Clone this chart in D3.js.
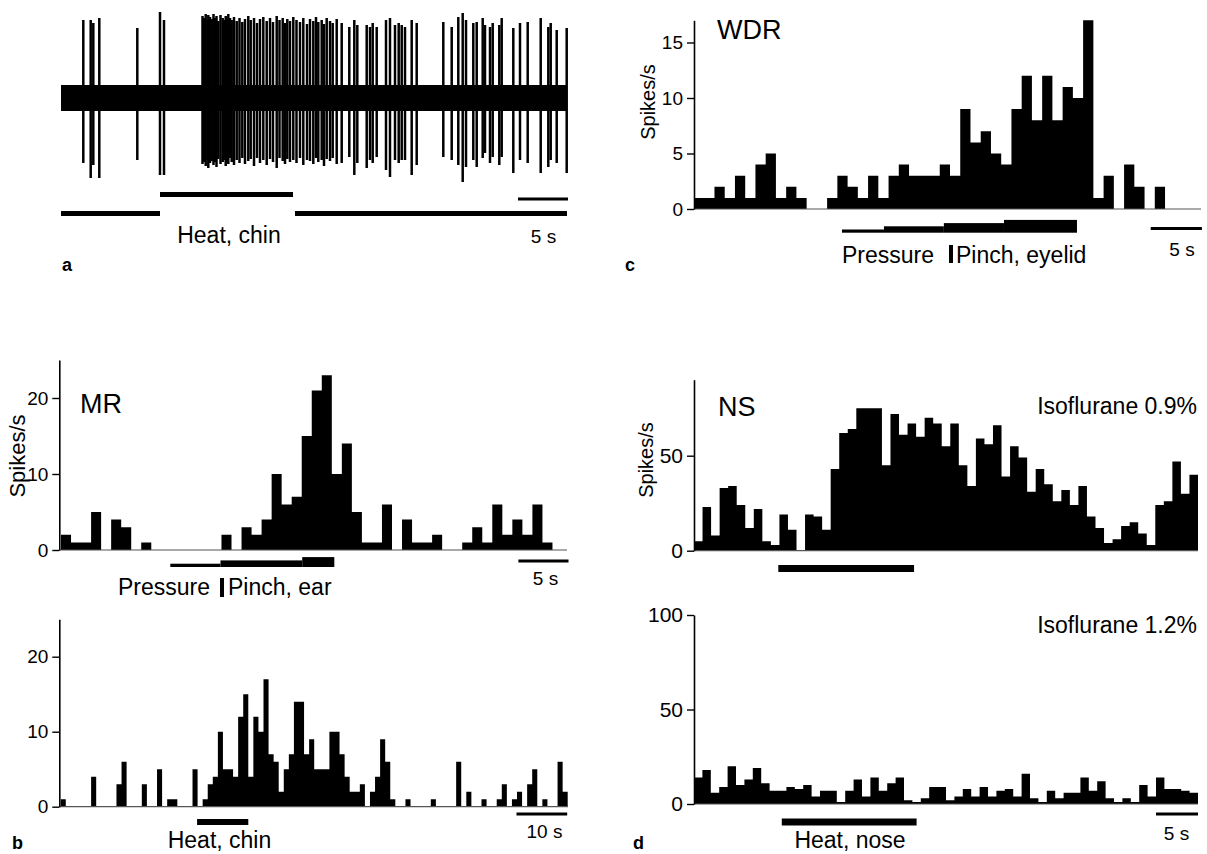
<!DOCTYPE html>
<html><head><meta charset="utf-8">
<script src="https://cdn.jsdelivr.net/npm/d3@7"></script>
<style>
body{margin:0;background:#fff;}
svg{display:block;font-family:"Liberation Sans",Arial,Helvetica,sans-serif;}
</style></head><body>
<svg id="fig" width="1207" height="854"></svg>
<script>
// ================= DATA =================
// Panel a: extracellular recording (time in s, amplitude in arbitrary units, 0 = baseline)
const aDuration = 50.6;
const aNoiseHalf = 13;
const aSpikeTimes = [2.23,2.97,3.23,3.83,7.63,9.9,10.3,
  14.15,14.3,14.47,14.65,14.73,14.9,15.07,15.25,15.4,15.55,15.73,15.95,16.17,16.3,16.47,16.6,16.73,16.9,17.07,17.3,
  17.57,17.85,18.13,18.4,18.73,18.97,19.3,19.6,19.9,20.23,20.57,20.9,21.2,21.57,21.85,22.17,22.4,22.63,22.9,23.23,
  23.55,23.9,24.23,24.6,24.9,25.23,25.5,25.73,26.07,26.3,26.57,26.9,27.17,27.57,
  28.07,28.83,29.33,29.63,30.57,30.9,31.17,31.57,32.5,32.9,33.4,33.77,34.07,34.4,35.07,35.57,
  38.23,39.07,39.73,40.17,40.5,41.23,41.57,42.17,42.4,42.9,43.17,43.83,44.07,45.23,45.9,46.67,47.97,48.73,48.97,49.57,50.57];
const aSpikeTop = [78,78,75,80,70,86,78,
  82,80,84,78,83,81,79,84,80,82,77,83,80,78,82,79,84,80,78,81,
  77,80,76,79,82,78,80,75,79,81,77,80,76,82,78,80,75,79,77,81,
  78,76,80,74,79,77,81,76,78,74,80,77,75,79,
  75,71,78,73,73,71,75,71,78,80,73,75,73,71,78,75,
  76,71,81,85,78,75,76,80,73,71,75,73,80,70,75,76,80,71,75,68,70];
const aSpikeBottom = [-65,-80,-67,-80,-62,-77,-77,
  -66,-64,-68,-62,-70,-65,-63,-67,-64,-69,-61,-66,-64,-62,-68,-63,-66,-60,-64,-67,
  -62,-65,-60,-66,-63,-61,-68,-60,-65,-62,-67,-61,-64,-70,-60,-63,-66,-61,-64,-62,
  -65,-60,-67,-62,-63,-66,-60,-64,-62,-68,-61,-63,-60,-66,
  -65,-59,-77,-65,-70,-62,-65,-59,-72,-79,-62,-65,-62,-62,-77,-67,
  -59,-62,-67,-84,-69,-62,-69,-60,-55,-65,-59,-67,-59,-75,-62,-65,-75,-69,-62,-65,-75];
const aHeatStart = [0, 9.9, 23.4];
const aHeatEnd   = [9.9, 23.2, 50.6];
const aHeatLevel = [0, 1, 0];

// Panel c: WDR neuron, spikes/s per 1-s bin
const cWDR = [1,1,2,1,3,1,4,5,1,2,1,0,0,1,3,2,1,3,1,3,4,3,3,3,4,3,9,6,7,5,4,9,12,8,12,8,11,10,17,1,3,0,4,2,0,2];
const cTicks = [0,5,10,15];
const cStimStart = [14.45, 18.55, 24.4, 30.27];
const cStimEnd   = [18.55, 24.4, 30.27, 37.4];
const cStimLevel = [1, 2, 3, 4];

// Panel b (top): MR neuron, pressure -> pinch ear
const bMR = [2,1,1,5,0,4,3,0,1,0,0,0,0,0,0,0,2,0,3,2,4,10,6,7,15,21,23,10,14,5,1,1,6,0,4,1,1,2,0,0,1,3,1,6,2,4,2,6,1,0];
const bTicks = [0,10,20];
const bStimStart = [10.9, 15.9, 24.05];
const bStimEnd   = [15.9, 24.05, 27.25];
const bStimLevel = [1, 2, 3];

// Panel b (bottom): MR neuron, heat chin
const bHeat = [1,0,0,0,0,0,4,0,0,0,0,3,6,0,0,0,3,0,0,5,0,1,1,0,0,0,5,0,1,3,4,10,5,5,4,12,15,4,12,10,17,7,6,2,5,7,14,14,7,9,
  5,5,5,10,10,7,4,2,2,3,0,2,4,9,6,1,0,0,1,0,0,0,0,1,0,0,0,0,6,0,2,0,0,1,0,0,1,3,0,1,2,0,3,5,0,1,0,0,6,2];
const bHeatStim = [26.9, 37.0];

// Panel d: NS neuron, heat nose, two isoflurane levels
const dIso09 = [5,23,8,33,34,24,12,22,5,3,19,11,0,19,18,11,43,62,64,75,75,75,45,72,61,67,60,70,67,55,67,45,34,59,56,66,39,55,49,31,43,35,26,32,24,34,18,12,4,6,13,15,9,3,24,26,47,30,40];
const dIso12 = [14,18,6,9,20,10,13,19,11,7,7,9,8,10,4,7,7,1,7,13,4,14,7,11,14,2,1,3,9,9,2,4,8,4,9,4,7,8,4,16,3,1,7,3,6,6,14,7,12,3,1,3,1,10,4,14,8,8,7,6];
const dTicksTop = [0,50];
const dTicksBottom = [0,50,100];
const dHeatTop = [9.87, 25.76];
const dHeatBottom = [10.45, 26.5];

// ================= DRAWING =================
const svg = d3.select('#fig');
const INK = '#000';

function label(x, y, s, size, anchor, weight) {
  return svg.append('text').attr('x', x).attr('y', y).attr('font-size', size)
    .attr('text-anchor', anchor || 'start').attr('font-weight', weight || 'normal')
    .attr('fill', INK).text(s);
}
function vlabel(cx, cy, s, size) {
  return svg.append('text').attr('transform', `translate(${cx},${cy}) rotate(-90)`)
    .attr('font-size', size).attr('text-anchor', 'middle').attr('dominant-baseline', 'central')
    .attr('fill', INK).text(s);
}

function histogram(values, x, y, ticks, axisX, baseEnd, tickFont) {
  const g = svg.append('g');
  const pts = values.map((v, i) => [i, v]);
  pts.push([values.length, values[values.length - 1]]);
  g.append('path').datum(pts)
    .attr('d', d3.area().x(d => x(d[0])).y0(y(0)).y1(d => y(d[1])).curve(d3.curveStepAfter))
    .attr('fill', INK);
  g.append('line').attr('x1', axisX).attr('x2', baseEnd).attr('y1', y(0)).attr('y2', y(0))
    .attr('stroke', '#555').attr('stroke-width', 1.2);
  const ax = d3.axisLeft(y).tickValues(ticks).tickSize(7).tickSizeOuter(0).tickPadding(4);
  const ag = g.append('g').attr('transform', `translate(${axisX},0)`).call(ax);
  ag.select('.domain').attr('stroke', INK).attr('stroke-width', 1.6);
  ag.selectAll('.tick line').attr('stroke', INK).attr('stroke-width', 1.4);
  ag.selectAll('.tick text').attr('font-size', tickFont).attr('fill', INK)
    .attr('font-family', '"Liberation Sans",Arial,sans-serif');
  return g;
}

function scaleBar(x, t0, dur, yPos) {
  svg.append('line').attr('x1', x(t0)).attr('x2', x(t0 + dur)).attr('y1', yPos).attr('y2', yPos)
    .attr('stroke', INK).attr('stroke-width', 3);
}

function stairs(x, starts, ends, levels, bottom, step) {
  svg.append('g').selectAll('rect').data(starts).join('rect')
    .attr('x', (d) => x(d)).attr('width', (d, i) => x(ends[i]) - x(d))
    .attr('y', (d, i) => bottom - levels[i] * step).attr('height', (d, i) => levels[i] * step)
    .attr('fill', INK);
}

// ---------- Panel a ----------
{
  const x = d3.scaleLinear().domain([0, aDuration]).range([61, 567]);
  const y = d3.scaleLinear().domain([-100, 100]).range([198, -2]);
  const g = svg.append('g');
  g.append('rect').attr('x', x(0)).attr('width', x(aDuration) - x(0))
    .attr('y', y(aNoiseHalf)).attr('height', y(-aNoiseHalf) - y(aNoiseHalf)).attr('fill', INK);
  g.selectAll('line.sp').data(aSpikeTimes).join('line').attr('class', 'sp')
    .attr('x1', d => x(d)).attr('x2', d => x(d))
    .attr('y1', (d, i) => y(aSpikeTop[i])).attr('y2', (d, i) => y(aSpikeBottom[i]))
    .attr('stroke', INK).attr('stroke-width', 2.5);
  const hy = d3.scaleLinear().domain([0, 1]).range([213.5, 194.5]);
  g.selectAll('line.heat').data(aHeatStart).join('line').attr('class', 'heat')
    .attr('x1', d => x(d)).attr('x2', (d, i) => x(aHeatEnd[i]))
    .attr('y1', (d, i) => hy(aHeatLevel[i])).attr('y2', (d, i) => hy(aHeatLevel[i]))
    .attr('stroke', INK).attr('stroke-width', 5);
  scaleBar(x, 45.7, 5, 199);
  label(229, 243, 'Heat, chin', 23, 'middle');
  label(543.5, 243, '5 s', 19, 'middle');
  label(62, 271, 'a', 18, 'start', 'bold');
}

// ---------- Panel c ----------
{
  const n = cWDR.length;
  const x = d3.scaleLinear().domain([0, n]).range([694, 694 + n * 10.24]);
  const y = d3.scaleLinear().domain([0, 17]).range([209, 20.3]);
  histogram(cWDR, x, y, cTicks, 694, 1201, 19);
  stairs(x, cStimStart, cStimEnd, cStimLevel, 232.7, 3.2);
  svg.append('rect').attr('x', 949).attr('y', 245).attr('width', 4).attr('height', 18).attr('fill', INK);
  label(842, 263, 'Pressure', 23);
  label(956, 263, 'Pinch, eyelid', 23);
  scaleBar(x, 44.6, 5, 228.5);
  label(1182, 256, '5 s', 19, 'middle');
  label(717, 39, 'WDR', 27);
  vlabel(648, 102, 'Spikes/s', 20);
  label(625, 271, 'c', 18, 'start', 'bold');
}

// ---------- Panel b (top) ----------
{
  const n = bMR.length;
  const x = d3.scaleLinear().domain([0, n]).range([61, 61 + n * 10.03]);
  const y = d3.scaleLinear().domain([0, 25]).range([550, 360]);
  histogram(bMR, x, y, bTicks, 59.3, 567, 19);
  stairs(x, bStimStart, bStimEnd, bStimLevel, 567, 3.3);
  svg.append('rect').attr('x', 220).attr('y', 578).attr('width', 4).attr('height', 19).attr('fill', INK);
  label(118, 595, 'Pressure', 23);
  label(228, 595, 'Pinch, ear', 23);
  scaleBar(x, 45.6, 5, 561);
  label(545.5, 585, '5 s', 19, 'middle');
  label(80, 413, 'MR', 27);
  vlabel(17.5, 456, 'Spikes/s', 22);
}

// ---------- Panel b (bottom) ----------
{
  const n = bHeat.length;
  const x = d3.scaleLinear().domain([0, n]).range([60.7, 60.7 + n * 5.07]);
  const y = d3.scaleLinear().domain([0, 25]).range([806.7, 619.2]);
  histogram(bHeat, x, y, bTicks, 59.3, 568, 19);
  svg.append('line').attr('x1', x(bHeatStim[0])).attr('x2', x(bHeatStim[1])).attr('y1', 822).attr('y2', 822)
    .attr('stroke', INK).attr('stroke-width', 6);
  scaleBar(x, 89.9, 10, 814);
  label(219.5, 848, 'Heat, chin', 23, 'middle');
  label(544.5, 838, '10 s', 19, 'middle');
  label(12, 849, 'b', 18, 'start', 'bold');
}

// ---------- Panel d (top) ----------
{
  const n = dIso09.length;
  const x = d3.scaleLinear().domain([0, n]).range([694, 1198]);
  const y = d3.scaleLinear().domain([0, 90]).range([550.7, 379.7]);
  histogram(dIso09, x, y, dTicksTop, 694, 1198, 21);
  svg.append('line').attr('x1', x(dHeatTop[0])).attr('x2', x(dHeatTop[1])).attr('y1', 568.5).attr('y2', 568.5)
    .attr('stroke', INK).attr('stroke-width', 7);
  label(718, 416, 'NS', 27);
  label(1197, 414, 'Isoflurane 0.9%', 23, 'end');
  vlabel(645.5, 460, 'Spikes/s', 20);
}

// ---------- Panel d (bottom) ----------
{
  const n = dIso12.length;
  const x = d3.scaleLinear().domain([0, n]).range([694, 1198]);
  const y = d3.scaleLinear().domain([0, 100]).range([804, 615]);
  histogram(dIso12, x, y, dTicksBottom, 694, 1198, 21);
  svg.append('line').attr('x1', x(dHeatBottom[0])).attr('x2', x(dHeatBottom[1])).attr('y1', 822).attr('y2', 822)
    .attr('stroke', INK).attr('stroke-width', 7);
  scaleBar(x, 55, 5, 814);
  label(850, 848, 'Heat, nose', 23, 'middle');
  label(1176.5, 840, '5 s', 19, 'middle');
  label(1197, 633, 'Isoflurane 1.2%', 23, 'end');
  label(633, 849, 'd', 18, 'start', 'bold');
}
</script>
</body></html>
